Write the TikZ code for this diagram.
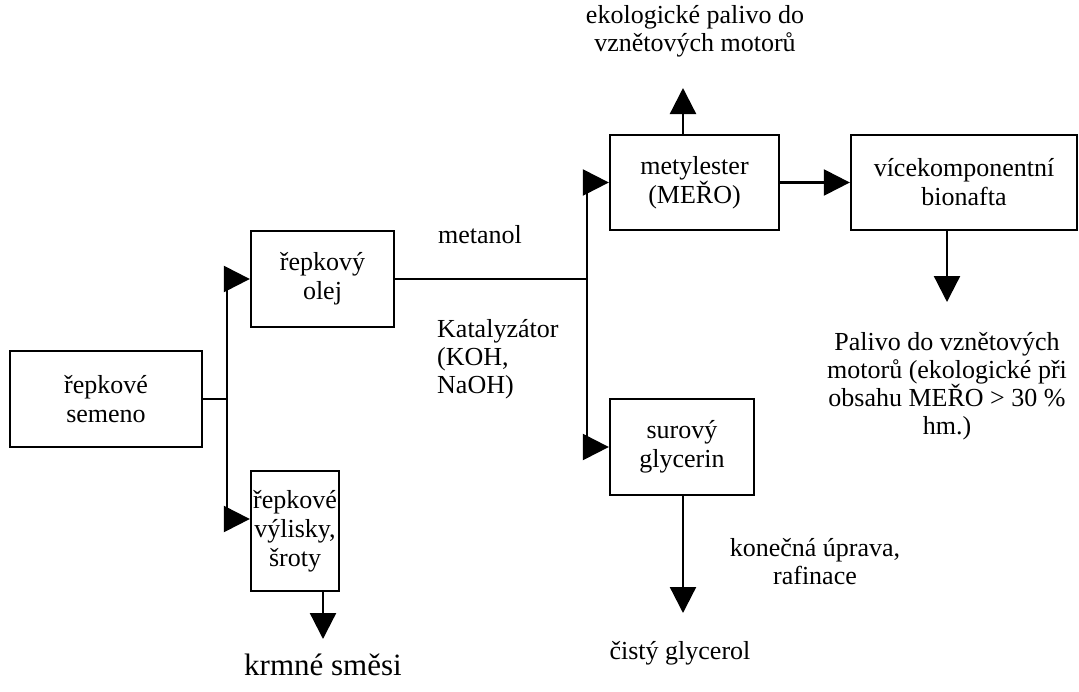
\documentclass[tikz,border=0pt]{standalone}
\usepackage{fontspec}
\setmainfont{Liberation Serif}
\usepackage{tikz}
\usetikzlibrary{arrows.meta, positioning, calc}

\begin{document}
\begin{tikzpicture}[
  x=1pt, y=-1pt,
  box/.style={draw, line width=2.3pt, align=center, inner sep=0pt,
              font=\fontsize{26}{29}\selectfont},
  lbl/.style={align=center, inner sep=0pt, font=\fontsize{26}{28}\selectfont},
  arr/.style={line width=2.3pt, -{Triangle[length=26pt, width=26pt]}},
  line/.style={line width=2.3pt},
]
  \useasboundingbox (0,0) rectangle (1079,691);

  % BOXES
  \node[box, minimum width=192pt, minimum height=96pt] (semeno) at (106,399) {řepkové\\semeno};
  \node[box, minimum width=143pt, minimum height=96pt] (olej) at (322.5,279) {řepkový\\olej};
  \node[box, minimum width=88pt, minimum height=120pt] (vylisky) at (295,531) {řepkové\\výlisky,\\šroty};
  \node[box, minimum width=169pt, minimum height=95pt] (mero) at (694.5,182.5) {metylester\\(MEŘO)};
  \node[box, minimum width=226pt, minimum height=95pt] (bionafta) at (964,182.5) {vícekomponentní\\bionafta};
  \node[box, minimum width=144pt, minimum height=96pt] (glycerin) at (682,447) {surový\\glycerin};

  % LABELS
  \node[lbl] (eko) at (695,31) {ekologické palivo do\\vznětových motorů};
  \node[lbl] (metanol) at (480,235) {metanol};
  \node[lbl, align=left, anchor=west] (katal) at (437,359) {Katalyzátor\\(KOH,\\NaOH)};
  \node[lbl] (palivo) at (947,386) {Palivo do vznětových\\motorů (ekologické při\\obsahu MEŘO > 30 \%\\hm.)};
  \node[lbl] (uprava) at (815,562) {konečná úprava,\\rafinace};
  \node[lbl] (glycerol) at (680,653) {čistý glycerol};
  \node[lbl, font=\fontsize{31}{34}\selectfont] (krmne) at (323,665) {krmné směsi};

  % JUNCTIONS AND ARROW ENDS
  \coordinate (j1) at (227,399);
  \coordinate (j2) at (587,279);
  \coordinate (ekotip) at (683,88);
  \coordinate (palivotip) at (947,302);
  \coordinate (glyctip) at (683,613);
  \coordinate (krmtip) at (323,639);

  % CONNECTORS
  \draw[line] (semeno.east) -- (j1);
  \draw[arr] (j1) |- (olej.west);
  \draw[arr] (j1) |- ([yshift=12pt]vylisky.west);
  \draw[line] (olej.east) -- (j2);
  \draw[arr] (j2) |- (mero.west);
  \draw[arr] (j2) |- (glycerin.west);
  \draw[arr] (mero.east) -- (bionafta.west);
  \draw[arr] (mero.north -| ekotip) -- (ekotip);
  \draw[arr] (bionafta.south -| palivotip) -- (palivotip);
  \draw[arr] (glycerin.south -| glyctip) -- (glyctip);
  \draw[arr] (vylisky.south -| krmtip) -- (krmtip);
\end{tikzpicture}
\end{document}
